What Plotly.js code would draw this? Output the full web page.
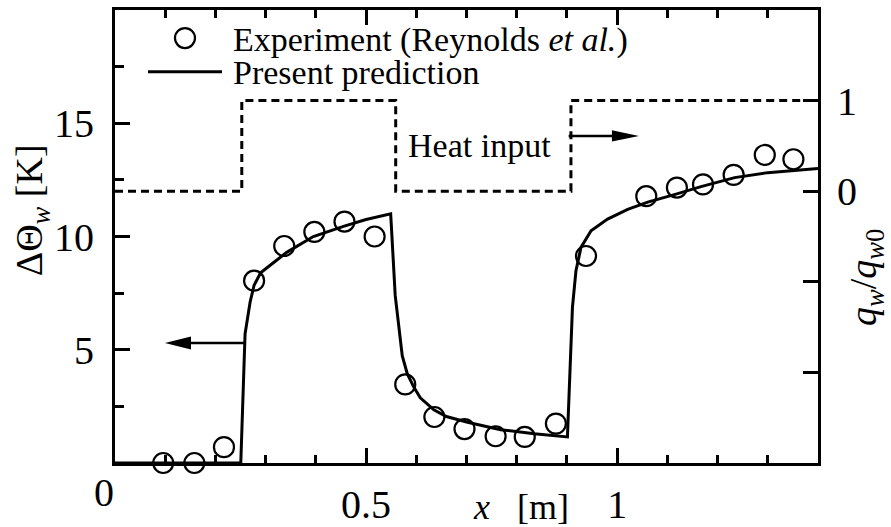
<!DOCTYPE html>
<html>
<head>
<meta charset="utf-8">
<script src="https://cdn.plot.ly/plotly-3.0.1.min.js"></script>
<style>
  html, body { margin: 0; padding: 0; background: #fff; }
  #chart { width: 891px; height: 527px; }
</style>
</head>
<body>
<div id="chart"></div>
<script>
// Measured wall temperature rise (circles)
const expX = [0.096, 0.158, 0.217, 0.277, 0.337, 0.397, 0.457, 0.517, 0.578, 0.636, 0.696,
              0.758, 0.816, 0.878, 0.938, 1.058, 1.119, 1.171, 1.232, 1.294, 1.351];
const expY = [0.0, 0.0, 0.7, 8.05, 9.58, 10.2, 10.66, 10.0, 3.47, 2.03, 1.5,
              1.18, 1.15, 1.74, 9.14, 11.78, 12.16, 12.3, 12.72, 13.6, 13.41];

// Predicted wall temperature rise (solid line)
const predX = [0, 0.2505, 0.259, 0.269, 0.277, 0.290, 0.316, 0.342, 0.395, 0.455, 0.500, 0.549,
               0.558, 0.572, 0.582, 0.595, 0.608, 0.635, 0.660, 0.702, 0.768, 0.835, 0.901,
               0.911, 0.918, 0.928, 0.948, 0.981, 1.021, 1.061, 1.114, 1.167, 1.234, 1.300, 1.400];
const predY = [0, 0, 5.7, 7.1, 7.85, 8.4, 8.85, 9.3, 10.0, 10.45, 10.75, 11.0,
               7.4, 4.74, 3.94, 3.35, 2.88, 2.35, 2.05, 1.8, 1.47, 1.29, 1.15,
               6.87, 8.49, 9.52, 10.25, 10.77, 11.2, 11.52, 11.85, 12.2, 12.6, 12.82, 13.0];

// Wall heat flux schedule q_w/q_w0 (dashed, right axis)
const heatX = [0, 0.2525, 0.2525, 0.559, 0.559, 0.908, 0.908, 1.4];
const heatQ = [0, 0, 1, 1, 0, 0, 1, 1];

// Axis ticks
const xTickVals = [0, 0.5, 1];
const xTickText = ['', '0.5', '1'];
const yTickVals = [5, 10, 15];
const yTickText = ['5', '10', '15'];
const y2TickVals = [-2, -1, 0, 1];
const y2TickText = ['', '', '0', '1'];

const FONT = 'Liberation Serif';
const NB = '\u00A0';

const traces = [
  {
    x: heatX, y: heatQ, yaxis: 'y2', type: 'scatter', mode: 'lines',
    line: { color: 'black', width: 3, dash: '8px,5px' },
    showlegend: false, hoverinfo: 'skip'
  },
  {
    x: predX, y: predY, type: 'scatter', mode: 'lines',
    line: { color: 'black', width: 3 },
    showlegend: false, hoverinfo: 'skip'
  },
  {
    x: expX, y: expY, type: 'scatter', mode: 'markers', cliponaxis: false,
    marker: { symbol: 'circle-open', size: 20, color: 'black', line: { color: 'black', width: 2.2 } },
    showlegend: false, hoverinfo: 'skip'
  }
];

const axisCommon = {
  showline: true, linewidth: 3, linecolor: 'black',
  ticks: 'inside', ticklen: 15, tickwidth: 3, tickcolor: 'black',
  showgrid: false, zeroline: false,
  tickfont: { family: FONT, size: 40, color: 'black' }
};

const layout = {
  width: 891, height: 527,
  margin: { l: 115, r: 73, t: 10, b: 64 },
  paper_bgcolor: 'white', plot_bgcolor: 'white',
  font: { family: FONT, color: 'black' },
  showlegend: false,
  xaxis: Object.assign({}, axisCommon, {
    range: [0, 1.4], mirror: 'ticks',
    tickmode: 'array', tickvals: xTickVals, ticktext: xTickText,
    ticklabelstandoff: 4,
    minor: { ticks: 'inside', ticklen: 8, tickwidth: 3, tickcolor: 'black',
             tickmode: 'linear', tick0: 0, dtick: 0.1, showgrid: false }
  }),
  yaxis: Object.assign({}, axisCommon, {
    range: [0, 20],
    tickmode: 'array', tickvals: yTickVals, ticktext: yTickText,
    ticklabelstandoff: 10,
    minor: { ticks: 'inside', ticklen: 9, tickwidth: 3, tickcolor: 'black',
             tickmode: 'linear', tick0: 0, dtick: 2.5, showgrid: false }
  }),
  yaxis2: Object.assign({}, axisCommon, {
    range: [-3, 2], overlaying: 'y', side: 'right',
    tickmode: 'array', tickvals: y2TickVals, ticktext: y2TickText,
    ticklabelstandoff: 8
  }),
  shapes: [
    // legend glyphs
    { type: 'circle', xref: 'paper', yref: 'paper',
      x0: 0.0853, x1: 0.1138, y0: 0.916, y1: 0.960,
      line: { color: 'black', width: 2.2 } },
    { type: 'line', xref: 'paper', yref: 'paper',
      x0: 0.0469, x1: 0.1522, y0: 0.8636, y1: 0.8636,
      line: { color: 'black', width: 3 } },
    // arrow pointing to the left axis
    { type: 'line', xref: 'x', yref: 'y', x0: 0.259, x1: 0.150, y0: 5.3, y1: 5.3,
      line: { color: 'black', width: 2.5 } },
    { type: 'path', xref: 'x', yref: 'y',
      path: 'M 0.0994 5.3 L 0.1513 5.586 L 0.1513 5.014 Z',
      fillcolor: 'black', line: { width: 0 } },
    // arrow pointing to the right axis
    { type: 'line', xref: 'x', yref: 'y', x0: 0.9034, x1: 0.991, y0: 14.44, y1: 14.44,
      line: { color: 'black', width: 2.5 } },
    { type: 'path', xref: 'x', yref: 'y',
      path: 'M 1.0435 14.44 L 0.9896 14.69 L 0.9896 14.19 Z',
      fillcolor: 'black', line: { width: 0 } }
  ],
  annotations: [
    { text: 'Experiment (Reynolds <i>et al.</i>)', xref: 'paper', yref: 'paper',
      x: 0.165, y: 0.934, xanchor: 'left', yanchor: 'middle', showarrow: false,
      font: { family: FONT, size: 34, color: 'black' } },
    { text: 'Present prediction', xref: 'paper', yref: 'paper',
      x: 0.165, y: 0.863, xanchor: 'left', yanchor: 'middle', showarrow: false,
      font: { family: FONT, size: 34, color: 'black' } },
    { text: 'Heat input', xref: 'paper', yref: 'paper',
      x: 0.519, y: 0.700, xanchor: 'center', yanchor: 'middle', showarrow: false,
      font: { family: FONT, size: 34, color: 'black' } },
    { text: '0', xref: 'paper', yref: 'paper',
      x: -0.0156, y: -0.065, xanchor: 'center', yanchor: 'middle', showarrow: false,
      font: { family: FONT, size: 40, color: 'black' } },
    { text: '<i>x</i>' + NB + NB + NB + '[m]', xref: 'paper', yref: 'paper',
      x: 0.5775, y: -0.098, xanchor: 'center', yanchor: 'middle', showarrow: false,
      font: { family: FONT, size: 36, color: 'black' } },
    { text: '\u0394\u0398<sub><i>w</i></sub>' + NB + '[K]', xref: 'paper', yref: 'paper',
      x: -0.118, y: 0.558, xanchor: 'center', yanchor: 'middle', textangle: -90, showarrow: false,
      font: { family: FONT, size: 38, color: 'black' } },
    { text: '<i>q<sub>w</sub></i>/<i>q<sub>w</sub></i><sub>0</sub>', xref: 'paper', yref: 'paper',
      x: 1.068, y: 0.41, xanchor: 'center', yanchor: 'middle', textangle: -90, showarrow: false,
      font: { family: FONT, size: 38, color: 'black' } }
  ]
};

Plotly.newPlot('chart', traces, layout, { staticPlot: true, displayModeBar: false });
</script>
</body>
</html>
